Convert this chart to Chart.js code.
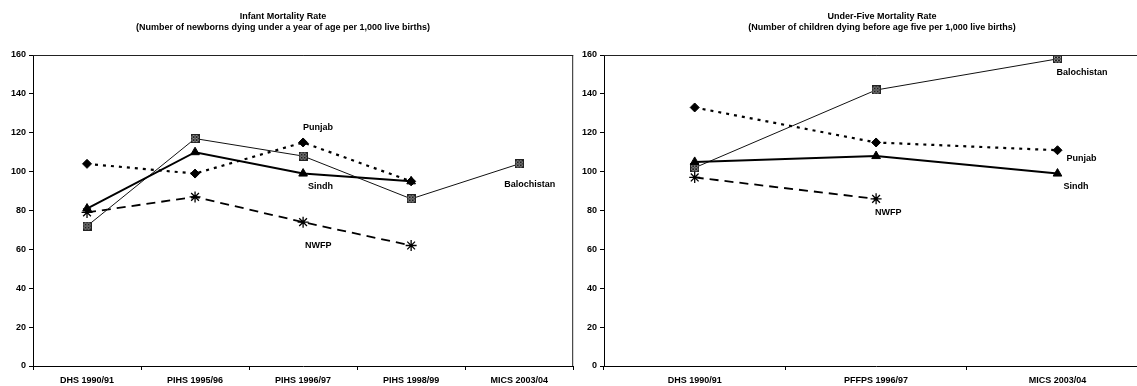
<!DOCTYPE html>
<html>
<head>
<meta charset="utf-8">
<script src="https://cdn.jsdelivr.net/npm/chart.js@4.4.1/dist/chart.umd.min.js"></script>
<style>
  html, body { margin: 0; padding: 0; background: #fff; overflow: hidden; width: 1137px; height: 386px; }
  .box { position: absolute; top: 0; }
</style>
</head>
<body>
<div class="box" style="left:0"><canvas id="infantChart" width="580" height="386"></canvas></div>
<div class="box" style="left:575px"><canvas id="u5Chart" width="580" height="386"></canvas></div>
<script>
// Infant mortality (per 1,000 live births)
const infantCategories = ['DHS 1990/91', 'PIHS 1995/96', 'PIHS 1996/97', 'PIHS 1998/99', 'MICS 2003/04'];
const infantPunjab = [104, 99, 115, 95, null];
const infantSindh = [81, 110, 99, 95, null];
const infantBalochistan = [72, 117, 108, 86, 104];
const infantNwfp = [79, 87, 74, 62, null];

// Under-five mortality (per 1,000 live births)
const u5Categories = ['DHS 1990/91', 'PFFPS 1996/97', 'MICS 2003/04'];
const u5Punjab = [133, 115, 111];
const u5Sindh = [105, 108, 99];
const u5Balochistan = [102, 142, 158];
const u5Nwfp = [97, 86, null];

const yTicks = [0, 20, 40, 60, 80, 100, 120, 140, 160];

const FONT = 'Arial, "Liberation Sans", sans-serif';

// hatched square marker like the excel one
function hatchMarker() {
    const c = document.createElement('canvas');
    c.width = 9; c.height = 9;
    const g = c.getContext('2d');
    g.fillStyle = '#999';
    g.fillRect(0, 0, 9, 9);
    g.strokeStyle = '#222';
    g.lineWidth = 1;
    g.beginPath();
    for (let i = -9; i < 18; i += 3) {
        g.moveTo(i, 0); g.lineTo(i + 9, 9);
        g.moveTo(i + 9, 0); g.lineTo(i, 9);
    }
    g.stroke();
    g.strokeRect(0.5, 0.5, 8, 8);
    return c;
}
const boxMarker = hatchMarker();

function makeSets(punjab, sindh, baloch, nwfp) {
    return [
        { label: 'Punjab', data: punjab, borderColor: '#000', backgroundColor: '#000',
          borderWidth: 2.2, borderDash: [3, 5], pointStyle: 'rectRot', pointRadius: 4.5,
          pointBorderWidth: 1 },
        { label: 'Sindh', data: sindh, borderColor: '#000', backgroundColor: '#000',
          borderWidth: 2, pointStyle: 'triangle', pointRadius: 5, pointBorderWidth: 1 },
        { label: 'Balochistan', data: baloch, borderColor: '#111', backgroundColor: '#888',
          borderWidth: 1, pointStyle: boxMarker },
        { label: 'NWFP', data: nwfp, borderColor: '#000', backgroundColor: '#000',
          borderWidth: 1.8, borderDash: [9, 6], pointStyle: 'star', pointRadius: 5.5,
          pointBorderWidth: 1.3 }
    ];
}

// series name labels, placed next to a given point
const infantNotes = [
    { series: 'Punjab', index: 2, dx: 0, dy: -15 },
    { series: 'Sindh', index: 2, dx: 5, dy: 13 },
    { series: 'NWFP', index: 2, dx: 2, dy: 23 },
    { series: 'Balochistan', index: 4, dx: -15, dy: 21 }
];
const u5Notes = [
    { series: 'Balochistan', index: 2, dx: -1, dy: 14 },
    { series: 'Punjab', index: 2, dx: 9, dy: 8 },
    { series: 'Sindh', index: 2, dx: 6, dy: 13 },
    { series: 'NWFP', index: 1, dx: -1, dy: 14 }
];

const frameAndText = {
    id: 'frameAndText',
    afterDraw(chart, args, opts) {
        const ctx = chart.ctx;
        const a = chart.chartArea;
        ctx.save();
        ctx.strokeStyle = '#222';
        ctx.lineWidth = 1;
        ctx.beginPath();
        ctx.moveTo(a.left, a.top + 0.5);
        ctx.lineTo(a.right, a.top + 0.5);
        ctx.moveTo(a.right - 0.5, a.top);
        ctx.lineTo(a.right - 0.5, a.bottom);
        ctx.stroke();

        ctx.fillStyle = '#000';
        ctx.font = 'bold 9px ' + FONT;
        ctx.textAlign = 'center';
        ctx.textBaseline = 'middle';
        ctx.fillText(opts.title, opts.titleX, 17);
        ctx.fillText(opts.subtitle, opts.titleX, 28);

        ctx.textAlign = 'left';
        opts.notes.forEach(n => {
            const di = chart.data.datasets.findIndex(d => d.label === n.series);
            const pt = chart.getDatasetMeta(di).data[n.index];
            ctx.fillText(n.series, pt.x + n.dx, pt.y + n.dy);
        });
        ctx.restore();
    }
};

function makeChart(id, cats, sets, yWidth, padRight, title, subtitle, titleX, notes) {
    return new Chart(document.getElementById(id).getContext('2d'), {
        type: 'line',
        data: { labels: cats, datasets: sets },
        plugins: [frameAndText],
        options: {
            responsive: false,
            animation: false,
            layout: { padding: { top: 55, right: padRight, left: 0, bottom: 0 } },
            scales: {
                x: {
                    offset: true,
                    grid: { offset: true, drawOnChartArea: false, tickLength: 4, color: '#000' },
                    border: { color: '#000', width: 1 },
                    ticks: { color: '#000', padding: 5, maxRotation: 0, autoSkip: false,
                             font: { family: FONT, size: 9, weight: 'bold' } },
                    afterFit(scale) { scale.height = 20; }
                },
                y: {
                    min: 0,
                    max: 160,
                    afterBuildTicks(scale) { scale.ticks = yTicks.map(v => ({ value: v })); },
                    grid: { drawOnChartArea: false, tickLength: 4, color: '#000' },
                    border: { color: '#000', width: 1 },
                    ticks: { color: '#000', padding: 3,
                             font: { family: FONT, size: 9, weight: 'bold' } },
                    afterFit(scale) { scale.width = yWidth; }
                }
            },
            plugins: {
                legend: { display: false },
                tooltip: { enabled: false },
                frameAndText: { title: title, subtitle: subtitle, titleX: titleX, notes: notes }
            }
        }
    });
}

makeChart('infantChart', infantCategories,
    makeSets(infantPunjab, infantSindh, infantBalochistan, infantNwfp),
    33, 2, 'Infant Mortality Rate',
    '(Number of newborns dying under a year of age per 1,000 live births)', 283, infantNotes);

makeChart('u5Chart', u5Categories,
    makeSets(u5Punjab, u5Sindh, u5Balochistan, u5Nwfp),
    29, 2, 'Under-Five Mortality Rate',
    '(Number of children dying before age five per 1,000 live births)', 307, u5Notes);
</script>
</body>
</html>
